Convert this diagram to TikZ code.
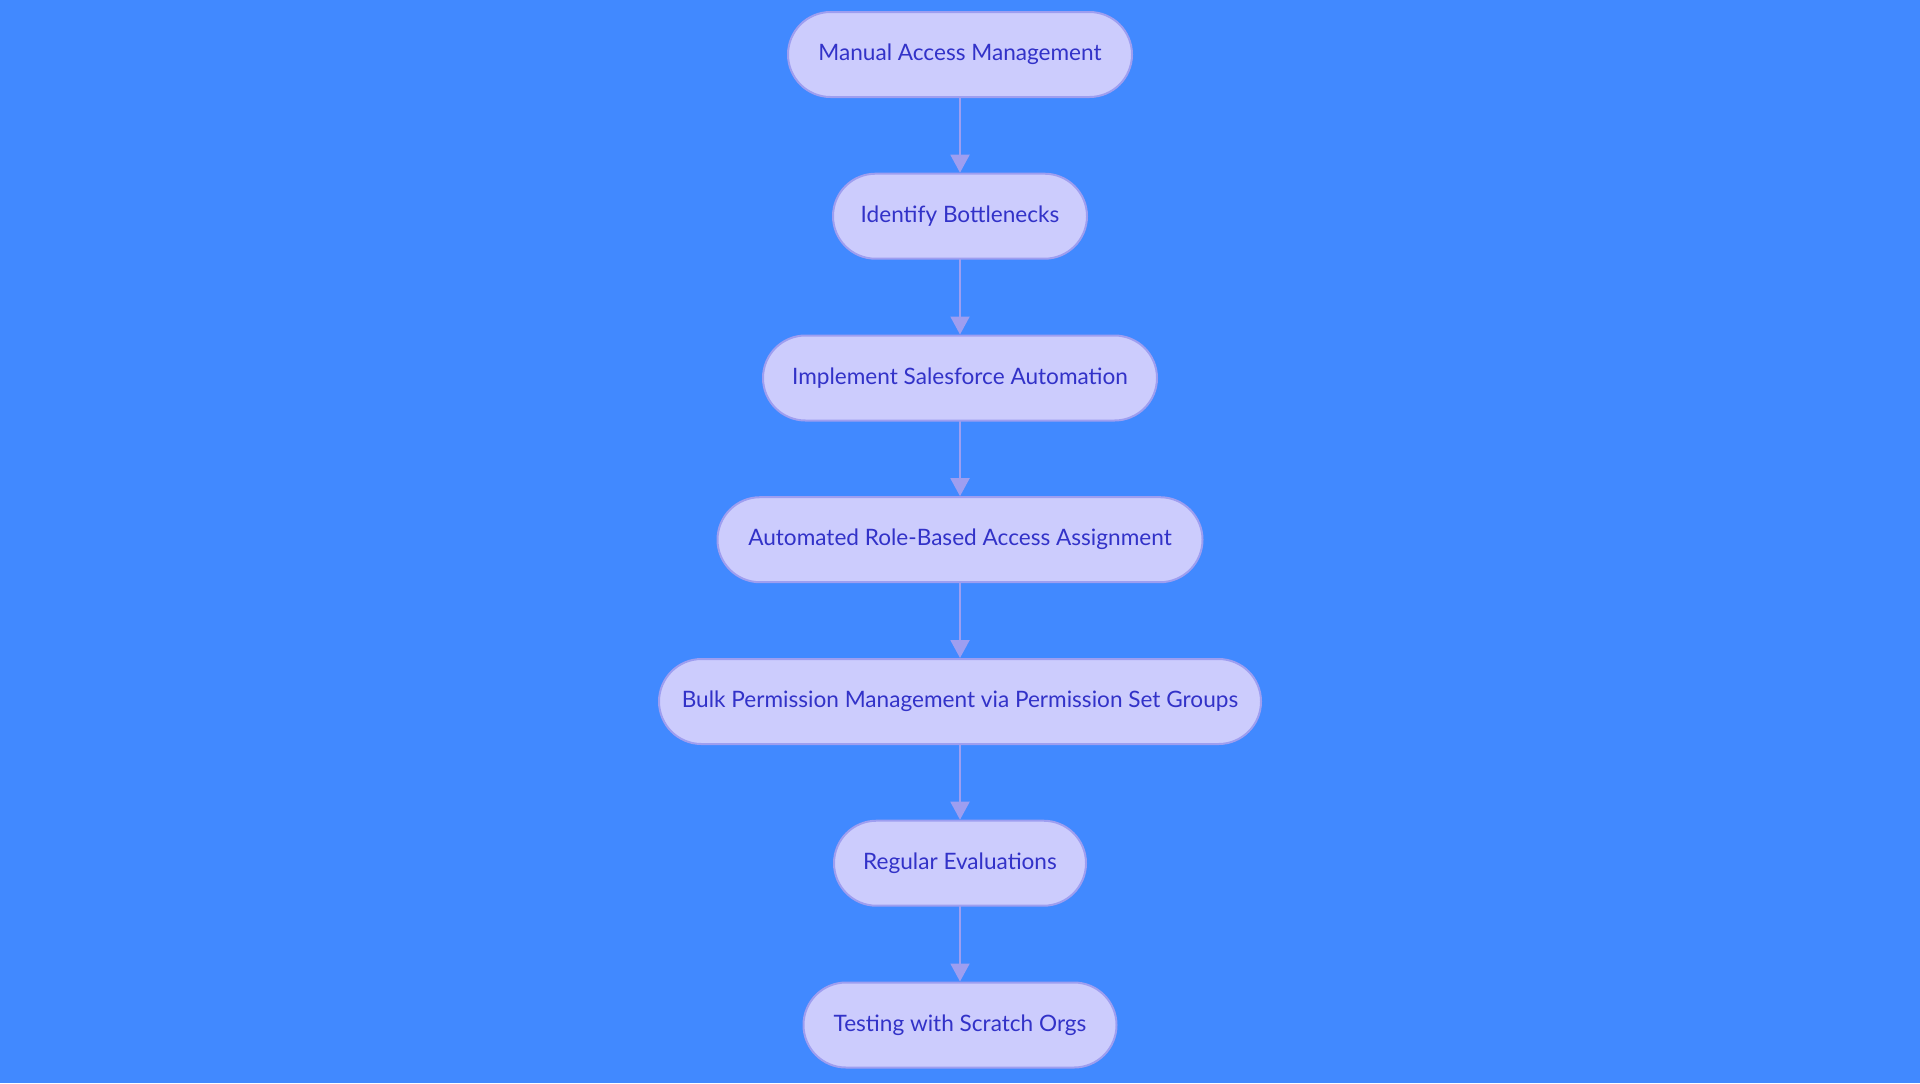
\documentclass[tikz,border=0pt]{standalone}
\usepackage{fontspec}
\setmainfont{Lato}
\usetikzlibrary{arrows.meta}
\definecolor{bgblue}{RGB}{65,137,255}
\definecolor{boxfill}{RGB}{204,204,253}
\definecolor{boxline}{RGB}{158,158,240}
\definecolor{boxtext}{RGB}{50,50,200}

\begin{document}
\begin{tikzpicture}[x=0.5pt,y=-0.5pt,line cap=round]
	\tikzstyle{stage}=[draw=boxline,line width=1pt,fill=boxfill,text=boxtext,rounded corners=21.25pt,minimum height=42.5pt,inner sep=0pt,font=\fontsize{11.3}{14}\selectfont];
	\tikzstyle{flow}=[draw=boxline,line width=1pt,-{Triangle[width=9.5pt,length=9pt]}];

	\fill[bgblue] (0,0) rectangle (1920,1083);
	\useasboundingbox (0,0) rectangle (1920,1083);

	\node[stage,minimum width=172pt]   (manual)    at (960,54.5)  {Manual Access Management};
	\node[stage,minimum width=127pt]   (identify)  at (960,216.2) {Identify Bottlenecks};
	\node[stage,minimum width=197pt]   (implement) at (960,378)   {Implement Salesforce Automation};
	\node[stage,minimum width=242.5pt] (rolebased) at (960,539.7) {Automated Role-Based Access Assignment};
	\node[stage,minimum width=301pt]   (bulk)      at (960,701.5) {Bulk Permission Management via Permission Set Groups};
	\node[stage,minimum width=126pt]   (regular)   at (960,863.2) {Regular Evaluations};
	\node[stage,minimum width=156.5pt] (scratch)   at (960,1025)  {Testing with Scratch Orgs};

	\draw[flow] (manual) -- (identify);
	\draw[flow] (identify) -- (implement);
	\draw[flow] (implement) -- (rolebased);
	\draw[flow] (rolebased) -- (bulk);
	\draw[flow] (bulk) -- (regular);
	\draw[flow] (regular) -- (scratch);
\end{tikzpicture}
\end{document}
